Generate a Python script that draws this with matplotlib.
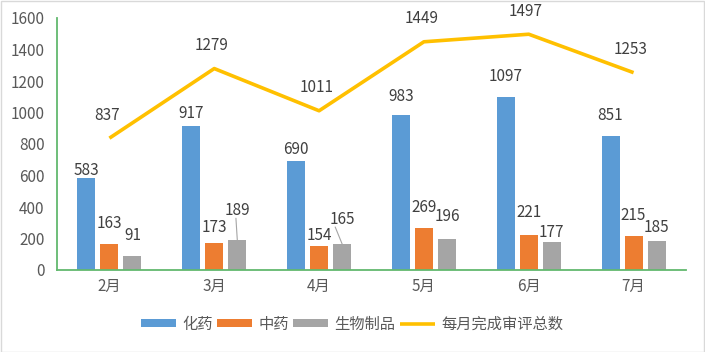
import numpy as np
import matplotlib
matplotlib.use('Agg')
import matplotlib.pyplot as plt

plt.rcParams['font.family'] = ['Noto Sans CJK SC', 'DejaVu Sans']
plt.rcParams['font.weight'] = 'light'

months = ['2月', '3月', '4月', '5月', '6月', '7月']
chem = [583, 917, 690, 983, 1097, 851]
tcm = [163, 173, 154, 269, 221, 215]
bio = [91, 189, 165, 196, 177, 185]
total = [837, 1279, 1011, 1449, 1497, 1253]

series = [('化药', chem, '#5B9BD5'), ('中药', tcm, '#ED7D31'), ('生物制品', bio, '#A5A5A5')]
# label gap above bar top in pixels (Excel places them a bit unevenly)
gaps = [[8, 12, 12, 19, 21, 20],
        [21, 15, 10, 20, 23, 21],
        [20, 30, 25, 23, 10, 13]]
leader = {(2, 1), (2, 2)}

fig = plt.figure(figsize=(7.05, 3.52), dpi=100)
ax = fig.add_axes([57 / 705, (352 - 270) / 352, 629 / 705, 252 / 352])

x = np.arange(len(months))
w = 0.172
step = 0.22
txt = '#404040'
fs = 11
px = 0.72

handles = []
for i, (name, vals, col) in enumerate(series):
    pos = x + (i - 1) * step
    b = ax.bar(pos, vals, width=w, color=col, label=name, zorder=2)
    handles.append(b)
    for j, (p, v) in enumerate(zip(pos, vals)):
        g = gaps[i][j]
        ax.annotate(str(v), (p, v), xytext=(0, g * px), textcoords='offset points',
                    ha='center', va='center', fontsize=fs, color=txt)
        if (i, j) in leader:
            ax.annotate('', (p, v), xytext=(-1 if j == 1 else -5, (g - 8) * px),
                        textcoords='offset points',
                        arrowprops=dict(arrowstyle='-', color='#A5A5A5', lw=0.8,
                                        shrinkA=0, shrinkB=0))

ln, = ax.plot(x, total, color='#FFC000', lw=2.6, label='每月完成审评总数', zorder=3,
              solid_capstyle='butt')
for p, v in zip(x, total):
    ax.annotate(str(v), (p, v), xytext=(-2, 23 * px), textcoords='offset points',
                ha='center', va='center', fontsize=fs, color=txt)

ax.set_xlim(-0.5, len(months) - 0.5)
ax.set_ylim(0, 1600)
ax.set_yticks(range(0, 1601, 200))
ax.set_xticks(x)
ax.set_xticklabels(months)
ax.tick_params(axis='both', length=0, labelsize=fs, labelcolor='#595959')
ax.tick_params(axis='y', pad=9)
ax.tick_params(axis='x', pad=6)
for s in ['top', 'right']:
    ax.spines[s].set_visible(False)
for s in ['left', 'bottom']:
    ax.spines[s].set_color('#62B96E')
    ax.spines[s].set_linewidth(1.3)

fig.legend(handles + [ln], [h.get_label() for h in handles] + [ln.get_label()],
           loc='center', bbox_to_anchor=(352 / 705, 1 - 324 / 352), ncol=4,
           frameon=False, fontsize=fs, labelcolor='#595959', handlelength=2.3,
           handleheight=0.5, handletextpad=0.4, columnspacing=0.3)

fig.patches.append(plt.Rectangle((0.5 / 705, 0.5 / 352), 703.5 / 705, 350.5 / 352,
                                 transform=fig.transFigure, fill=False,
                                 edgecolor='#D9D9D9', lw=1))

fig.savefig('out.png', dpi=100)
